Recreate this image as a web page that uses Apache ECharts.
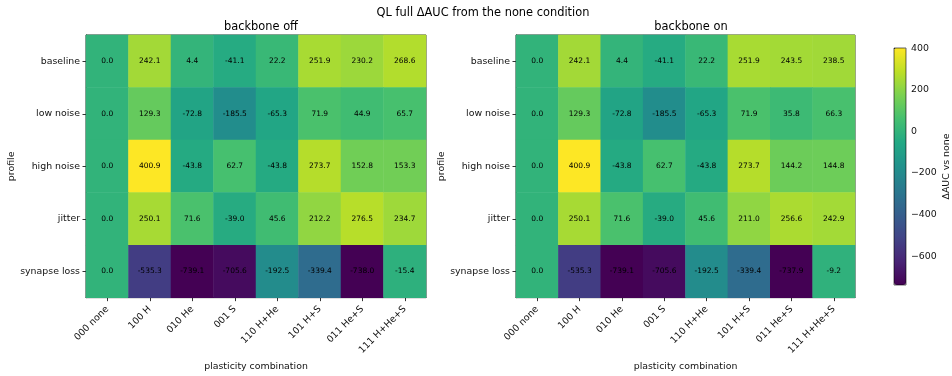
<!DOCTYPE html>
<html>
<head>
<meta charset="utf-8">
<script src="https://cdn.jsdelivr.net/npm/echarts@6/dist/echarts.min.js"></script>
<style>
html,body{margin:0;padding:0;background:#fff;}
#chart{width:952px;height:376px;}
</style>
</head>
<body>
<div id="chart"></div>
<script>
const profiles = ['baseline', 'low noise', 'high noise', 'jitter', 'synapse loss'];
const combos = ['000 none', '100 H', '010 He', '001 S', '110 H+He', '101 H+S', '011 He+S', '111 H+He+S'];

const offBaseline = [0.0, 242.1, 4.4, -41.1, 22.2, 251.9, 230.2, 268.6];
const offLowNoise = [0.0, 129.3, -72.8, -185.5, -65.3, 71.9, 44.9, 65.7];
const offHighNoise = [0.0, 400.9, -43.8, 62.7, -43.8, 273.7, 152.8, 153.3];
const offJitter = [0.0, 250.1, 71.6, -39.0, 45.6, 212.2, 276.5, 234.7];
const offSynapseLoss = [0.0, -535.3, -739.1, -705.6, -192.5, -339.4, -738.0, -15.4];

const onBaseline = [0.0, 242.1, 4.4, -41.1, 22.2, 251.9, 243.5, 238.5];
const onLowNoise = [0.0, 129.3, -72.8, -185.5, -65.3, 71.9, 35.8, 66.3];
const onHighNoise = [0.0, 400.9, -43.8, 62.7, -43.8, 273.7, 144.2, 144.8];
const onJitter = [0.0, 250.1, 71.6, -39.0, 45.6, 211.0, 256.6, 242.9];
const onSynapseLoss = [0.0, -535.3, -739.1, -705.6, -192.5, -339.4, -737.9, -9.2];

const colorMin = -739.1;
const colorMax = 400.9;
const colorTicks = [400, 200, 0, -200, -400, -600];

const offRows = [offBaseline, offLowNoise, offHighNoise, offJitter, offSynapseLoss];
const onRows = [onBaseline, onLowNoise, onHighNoise, onJitter, onSynapseLoss];

function toCells(rows) {
  const out = [];
  rows.forEach((r, yi) => r.forEach((v, xi) => out.push([xi, yi, v])));
  return out;
}

const viridis = ['#440154','#482475','#414487','#355f8d','#2a788e','#21918c','#22a884','#44bf70','#7ad151','#bddf26','#fde725'];
const FONT = 'DejaVu Sans';
const txt = '#111';
const TICKF = 9.4;

function xAxisFor(gi) {
  return {
    type: 'category', gridIndex: gi, data: combos,
    name: 'plasticity combination', nameLocation: 'middle', nameGap: 57,
    nameTextStyle: {fontFamily: FONT, fontSize: TICKF, color: txt},
    axisLine: {show: true, lineStyle: {color: '#000', width: 0.8}},
    axisTick: {show: true, alignWithLabel: true, length: 3.5, lineStyle: {color: '#000', width: 0.8}},
    axisLabel: {rotate: 45, fontFamily: FONT, fontSize: TICKF, color: txt, margin: 10, interval: 0},
    splitLine: {show: false}
  };
}
function yAxisFor(gi) {
  return {
    type: 'category', gridIndex: gi, data: profiles, inverse: true,
    name: 'profile', nameLocation: 'middle', nameGap: 68, nameRotate: 90,
    nameTextStyle: {fontFamily: FONT, fontSize: TICKF, color: txt},
    axisLine: {show: true, lineStyle: {color: '#000', width: 0.8}},
    axisTick: {show: true, alignWithLabel: true, length: 3.5, lineStyle: {color: '#000', width: 0.8}},
    axisLabel: {fontFamily: FONT, fontSize: TICKF, color: txt, margin: 6},
    splitLine: {show: false}
  };
}
function heat(gi, rows) {
  return {
    type: 'heatmap', xAxisIndex: gi, yAxisIndex: gi, data: toCells(rows),
    label: {show: true, fontFamily: FONT, fontSize: 7.5, color: '#000',
      formatter: p => p.value[2].toFixed(1)},
    itemStyle: {borderWidth: 0},
    emphasis: {disabled: true}
  };
}

const chart = echarts.init(document.getElementById('chart'), null, {renderer: 'canvas'});
chart.setOption({
  animation: false,
  backgroundColor: '#fff',
  textStyle: {fontFamily: FONT},
  title: [
    {text: 'QL full ΔAUC from the none condition', left: 478, top: 3, textAlign: 'center',
      textStyle: {fontFamily: FONT, fontSize: 11.4, fontWeight: 'normal', color: '#000'}},
    {text: 'backbone off', left: 256, top: 17, textAlign: 'center',
      textStyle: {fontFamily: FONT, fontSize: 11.4, fontWeight: 'normal', color: '#000'}},
    {text: 'backbone on', left: 686, top: 17, textAlign: 'center',
      textStyle: {fontFamily: FONT, fontSize: 11.4, fontWeight: 'normal', color: '#000'}}
  ],
  grid: [
    {left: 86, top: 35, width: 340, height: 263, show: true, borderColor: '#000', borderWidth: 0.8, backgroundColor: 'transparent'},
    {left: 516, top: 35, width: 339, height: 263, show: true, borderColor: '#000', borderWidth: 0.8, backgroundColor: 'transparent'},
    {left: 894, top: 48, width: 12, height: 237, show: true, borderColor: '#000', borderWidth: 0.6, backgroundColor: 'transparent', z: 10}
  ],
  xAxis: [xAxisFor(0), xAxisFor(1),
    {type: 'value', gridIndex: 2, show: false, min: 0, max: 1}],
  yAxis: [yAxisFor(0), yAxisFor(1),
    {type: 'value', gridIndex: 2, position: 'right', min: colorMin, max: colorMax,
      name: 'ΔAUC vs none', nameLocation: 'middle', nameGap: 36, nameRotate: 90,
      nameTextStyle: {fontFamily: FONT, fontSize: TICKF, color: txt},
      axisLine: {show: false},
      axisTick: {show: true, length: 3.5, customValues: colorTicks, lineStyle: {color: '#000', width: 0.8}},
      axisLabel: {fontFamily: FONT, fontSize: TICKF, color: txt, margin: 5, customValues: colorTicks,
        formatter: v => (v < 0 ? '\u2212' + Math.abs(v) : String(v))},
      splitLine: {show: false}}
  ],
  visualMap: [{
    type: 'continuous', min: colorMin, max: colorMax, seriesIndex: [0, 1],
    calculable: false, realtime: false, hoverLink: false,
    orient: 'vertical', left: 894, top: 48, padding: 0,
    itemWidth: 12, itemHeight: 237, text: null, showLabel: false,
    inRange: {color: viridis}
  }],
  series: [heat(0, offRows), heat(1, onRows)]
});
</script>
</body>
</html>
